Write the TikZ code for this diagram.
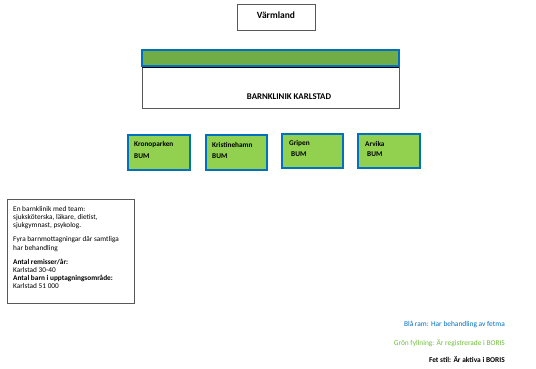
\documentclass[tikz,border=0pt]{standalone}
\usepackage{fontspec}
\setmainfont{Carlito}
\definecolor{bblue}{HTML}{0070C0}
\definecolor{dgreen}{HTML}{70AD47}
\definecolor{lgreen}{HTML}{92D050}
\definecolor{lgtext}{HTML}{6FBF3A}
\begin{document}
\begin{tikzpicture}[x=1pt,y=-1pt,
  unit/.style={draw=bblue,line width=1.8pt,fill=lgreen},
  lbl/.style={anchor=west,inner sep=0pt,font=\fontsize{7.3}{8}\selectfont\bfseries},
  info/.style={anchor=north west,inner sep=0pt,align=left,font=\fontsize{7.3}{8.2}\selectfont},
  leg/.style={anchor=east,inner sep=0pt,font=\fontsize{7.4}{8}\selectfont}]
\useasboundingbox[fill=white] (0,0) rectangle (536,369);
% Varmland
\draw[gray!70!black,line width=0.6pt] (237,4) rectangle (315,30);
\node[inner sep=0pt,font=\fontsize{9.5}{11}\selectfont\bfseries] (varm) at (276,15) {Värmland};
% Barnklinik
\draw[gray!70!black,line width=0.6pt] (142,66) rectangle (399,108);
\draw[draw=bblue,line width=1.8pt,fill=dgreen] (142,50) rectangle (399,66);
\draw[black,line width=0.6pt] (142,67) -- (399,67);
\node[inner sep=0pt,font=\fontsize{8.8}{10}\selectfont\bfseries] (bk) at (289,97) {BARNKLINIK KARLSTAD};
% units
\draw[unit] (128,135) rectangle (190,170);
\node[lbl] (kp) at (134,145) {Kronoparken};
\node[lbl] (kpb) at (134,156) {BUM};
\draw[unit] (206,135) rectangle (267,170);
\node[lbl] (kh) at (212,145) {Kristinehamn};
\node[lbl] (khb) at (212,156) {BUM};
\draw[unit] (282,134) rectangle (343,168);
\node[lbl] (gr) at (289,144) {Gripen};
\node[lbl] (grb) at (291,154) {BUM};
\draw[unit] (358,134) rectangle (420,168);
\node[lbl] (ar) at (365,144) {Arvika};
\node[lbl] (arb) at (367,154) {BUM};
% info box
\draw[gray!70!black,line width=0.6pt] (7,199) rectangle (134,303);
\node[info] (inf) at (13,206) {En barnklinik med team:\\sjuksköterska, läkare, dietist,\\sjukgymnast, psykolog.\\[6pt]Fyra barnmottagningar där samtliga\\har behandling\\[6pt]\textbf{Antal remisser/år:}\\Karlstad 30-40\\\textbf{Antal barn i upptagningsområde:}\\Karlstad 51 000};
% legend
\node[leg,text=bblue] (l1) at (505,325) {Blå ram: Har behandling av fetma};
\node[leg,text=lgtext] (l2) at (505,343) {Grön fyllning: Är registrerade i BORIS};
\node[leg,font=\fontsize{7.4}{8}\selectfont\bfseries] (l3) at (505,360) {Fet stil: Är aktiva i BORIS};
\end{tikzpicture}
\end{document}
